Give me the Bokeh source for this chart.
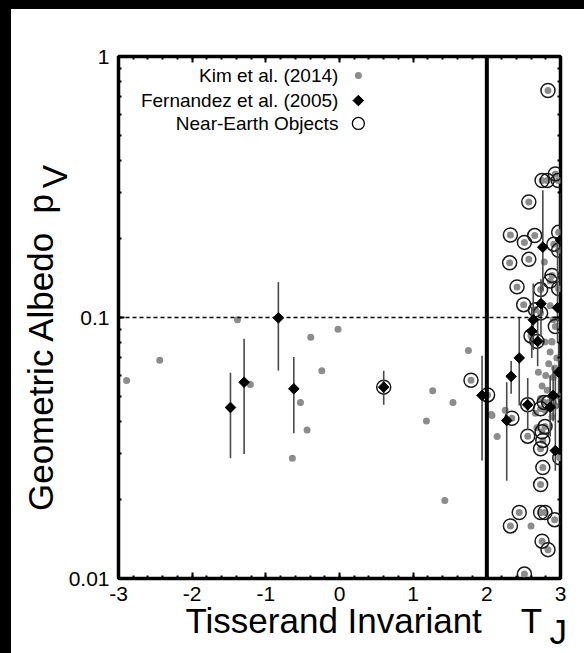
import numpy as np
from bokeh.plotting import figure
from bokeh.models import (Range1d, FixedTicker, LinearAxis, LogAxis, Span, Spacer,
                          CustomJSTickFormatter)
from bokeh.layouts import column, row
from bokeh.embed import file_html
from bokeh.resources import INLINE
from bokeh.core.properties import value

# ---------------- data ----------------
kim_tj = [-2.89, -2.44, -1.385, -1.21, -0.53, -0.44, -0.64, -0.24, -0.39, -0.02,
          1.265, 1.18, 1.54, 1.43, 1.75, 1.785,
          2.01, 2.07, 2.14, 2.25, 2.34, 2.60, 2.78,
          2.83, 2.75, 2.82, 2.93, 2.97, 2.57, 2.32, 2.51, 2.65, 2.31, 2.57, 2.975,
          2.91, 2.975, 2.41, 2.885, 2.86, 2.975, 2.73, 2.50, 2.66, 2.73, 2.60, 2.93,
          2.555, 2.73, 2.78, 2.84, 2.79, 2.75, 2.76, 2.73, 2.99, 2.76, 2.73, 2.44,
          2.32, 2.73, 2.79, 2.92, 2.75, 2.83, 2.51,
          2.70, 2.86, 2.885, 2.79, 2.84, 2.75, 2.73, 2.82, 2.90, 2.885, 2.93, 2.68,
          2.79, 2.86, 2.90, 2.88, 2.06, 2.95, 2.97, 2.80, 2.92, 2.66]
kim_pv = [0.0574, 0.0686, 0.098, 0.0554, 0.0472, 0.0371, 0.0289, 0.0625, 0.0841, 0.0902,
          0.0524, 0.0401, 0.0472, 0.0199, 0.0748, 0.0575,
          0.0505, 0.0421, 0.035, 0.0441, 0.0411, 0.0159, 0.163,
          0.741, 0.335, 0.335, 0.355, 0.335, 0.277, 0.207, 0.194, 0.206, 0.162, 0.167, 0.212,
          0.191, 0.181, 0.131, 0.145, 0.138, 0.129, 0.128, 0.112, 0.107, 0.104, 0.085, 0.0924,
          0.0351, 0.0447, 0.0472, 0.0472, 0.0382, 0.0365, 0.0338, 0.0314, 0.0290, 0.0266, 0.0229, 0.0179,
          0.0159, 0.0179, 0.0179, 0.0168, 0.0139, 0.0129, 0.0104,
          0.0617, 0.0738, 0.0805, 0.0805, 0.0665, 0.0547, 0.0489, 0.0526, 0.0590, 0.0417, 0.0458, 0.0378,
          0.0441, 0.111, 0.098, 0.081, 0.0425, 0.070, 0.050, 0.0600, 0.0640, 0.0430]

neo_tj = [0.60, 1.785, 2.01, 2.34, 2.555, 2.68,
          2.83, 2.75, 2.82, 2.93, 2.97, 2.57, 2.32, 2.51, 2.65, 2.31, 2.57, 2.975,
          2.91, 2.975, 2.41, 2.885, 2.86, 2.975, 2.73, 2.50, 2.66, 2.73, 2.60, 2.93,
          2.555, 2.73, 2.78, 2.84, 2.79, 2.75, 2.76, 2.73, 2.99, 2.76, 2.73, 2.44,
          2.32, 2.73, 2.79, 2.92, 2.75, 2.83, 2.51]
neo_pv = [0.0541, 0.0575, 0.0505, 0.0411, 0.0463, 0.081,
          0.741, 0.335, 0.335, 0.355, 0.335, 0.277, 0.207, 0.194, 0.206, 0.162, 0.167, 0.212,
          0.191, 0.181, 0.131, 0.145, 0.138, 0.129, 0.128, 0.112, 0.107, 0.104, 0.085, 0.0924,
          0.0351, 0.0447, 0.0472, 0.0472, 0.0382, 0.0365, 0.0338, 0.0314, 0.0290, 0.0266, 0.0229, 0.0179,
          0.0159, 0.0179, 0.0179, 0.0168, 0.0139, 0.0129, 0.0104]

fern_tj = [-1.48, -1.295, -0.83, -0.62, 0.60, 1.935, 2.27, 2.33, 2.44, 2.555,
           2.63, 2.61, 2.69, 2.735, 2.76, 2.86, 2.90, 2.93, 2.975, 2.96, 3.0]
fern_pv = [0.0452, 0.0565, 0.0997, 0.0533, 0.0541, 0.0503, 0.0403, 0.0595, 0.0700, 0.0463,
           0.098, 0.0887, 0.081, 0.113, 0.186, 0.0453, 0.0503, 0.0309, 0.0617, 0.109, 0.198]
fern_lo = [0.0289, 0.0300, 0.0626, 0.0360, 0.0463, 0.0283, 0.0237, 0.0510, 0.046, 0.0370,
           0.075, 0.070, 0.065, 0.085, 0.127, 0.035, 0.040, 0.0259, 0.045, 0.080, 0.130]
fern_hi = [0.0614, 0.0829, 0.1366, 0.0705, 0.0625, 0.0713, 0.0565, 0.0682, 0.100, 0.0586,
           0.135, 0.110, 0.100, 0.140, 0.307, 0.060, 0.065, 0.0608, 0.080, 0.200, 0.300]

x_ticks = [-3, -2, -1, 0, 1, 2, 3]
y_ticks = [0.01, 0.1, 1]
legend_labels = ["Kim et al. (2014)", "Fernandez et al. (2005)", "Near-Earth Objects"]
x_title, x_sym, x_sub = "Tisserand Invariant", "T", "J"
y_title, y_sym, y_sub = "Geometric Albedo", "p", "V"
neo_boundary = 2.0
albedo_ref = 0.1

# ---------------- styling ----------------
FONT = "Liberation Sans"
GRAY = "#8c8c8c"
NB = "\u00a0"

x_minor = [round(-3 + 0.2 * i, 2) for i in range(31)]
y_minor = [m * 10.0 ** e for e in (-2, -1) for m in range(1, 10)]

p = figure(x_range=Range1d(-3, 3), y_range=Range1d(0.01, 1),
           y_axis_type="log", output_backend="svg", toolbar_location=None,
           x_axis_location=None, y_axis_location=None,
           frame_width=442, frame_height=522,
           min_border_left=107, min_border_right=22, min_border_top=47, min_border_bottom=66)
p.grid.visible = False
p.background_fill_color = "white"
p.border_fill_color = "white"
p.outline_line_color = "black"
p.outline_line_width = 3.5

xt = FixedTicker(ticks=x_ticks, minor_ticks=x_minor)
yt = FixedTicker(ticks=y_ticks, minor_ticks=y_minor)

def style_axis(ax, show_labels, line_height=0.35):
    ax.axis_line_color = None
    ax.major_tick_in = 6
    ax.major_tick_out = 0
    ax.minor_tick_in = 3
    ax.minor_tick_out = 0
    ax.major_tick_line_width = 2
    ax.minor_tick_line_width = 2
    ax.major_tick_line_color = "black"
    ax.minor_tick_line_color = "black"
    ax.major_label_text_font = FONT
    ax.major_label_text_font_size = "21px"
    ax.major_label_text_color = "black"
    ax.axis_label_text_font = FONT
    ax.axis_label_text_font_size = "35px"
    ax.axis_label_text_font_style = "normal"
    ax.axis_label_text_color = "black"
    ax.axis_label_text_line_height = line_height
    if show_labels:
        ax.formatter = CustomJSTickFormatter(code="return String(tick);")
    else:
        ax.major_label_text_alpha = 0
        ax.major_label_text_font_size = "1px"

# subscripted titles: the second line holds the subscript, drawn just under the first
x_label = NB * 5 + x_title + NB * 4 + x_sym + "\n" + NB * 45 + x_sub
y_label = y_title + NB * 2 + y_sym + NB * 7 + "\n" + NB * 29 + y_sub

xb = LinearAxis(ticker=xt, major_label_standoff=8, axis_label=x_label, axis_label_standoff=-3)
style_axis(xb, True, 0.3)
p.add_layout(xb, "below")
xa = LinearAxis(ticker=xt, major_label_standoff=0)
style_axis(xa, False)
p.add_layout(xa, "above")
yl = LogAxis(ticker=yt, major_label_standoff=9, axis_label=y_label, axis_label_standoff=-8)
style_axis(yl, True)
p.add_layout(yl, "left")
yr = LogAxis(ticker=yt, major_label_standoff=0)
style_axis(yr, False)
p.add_layout(yr, "right")

# reference lines
p.add_layout(Span(location=albedo_ref, dimension="width", line_color="black",
                  line_width=1.5, line_dash="4 3"))
p.add_layout(Span(location=neo_boundary, dimension="height", line_color="black",
                  line_width=4))

# data
p.scatter(kim_tj, kim_pv, size=7, color=GRAY, line_color=None)
p.scatter(neo_tj, neo_pv, size=14, fill_color=None, line_color="#1a1a1a", line_width=1.5)
p.segment(fern_tj, fern_lo, fern_tj, fern_hi, line_color="#4a4a4a", line_width=1.6)
p.scatter(fern_tj, fern_pv, marker="square", angle=np.pi / 4, size=7.5,
          fill_color="black", line_color="black")

# legend (text on the left, symbol on the right)
leg_text_x = -0.015
leg_sym_x = 0.256
leg_y = [0.846, 0.678, 0.554]
p.text([leg_text_x] * 3, leg_y, text=legend_labels, text_align="right",
       text_baseline="middle", text_font=value(FONT), text_font_size="19px",
       text_color="black")
p.scatter([leg_sym_x], [leg_y[0]], size=7, color=GRAY, line_color=None)
p.scatter([leg_sym_x], [leg_y[1]], marker="square", angle=np.pi / 4, size=7.5, color="black")
p.scatter([leg_sym_x], [leg_y[2]], size=12, fill_color=None, line_color="black", line_width=1.3)

black = {"background-color": "black"}
layout = column(Spacer(width=584, height=9, styles=black),
                row(Spacer(width=11, height=644, styles=black), p),
                width=584, height=653,
                styles={"overflow": "hidden", "background-color": "white",
                        "position": "fixed", "top": "0px", "left": "0px"})
open("out.html", "w").write(file_html(layout, INLINE))
